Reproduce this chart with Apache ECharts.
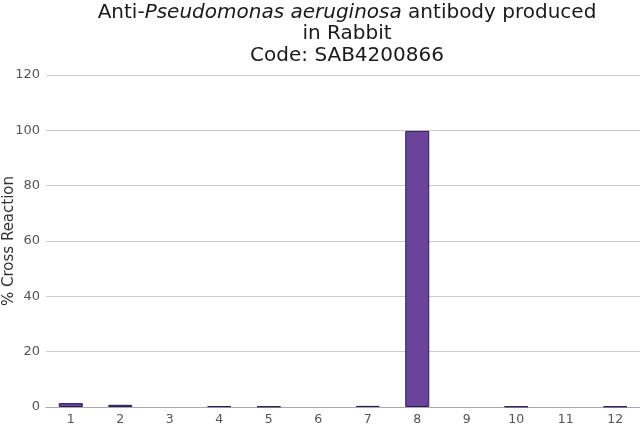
<!DOCTYPE html>
<html><head><meta charset="utf-8">
<script src="https://cdn.jsdelivr.net/npm/echarts@6/dist/echarts.min.js"></script>
<style>html,body{margin:0;padding:0;background:#fff}#c{width:640px;height:427px}</style>
</head><body><div id="c"></div>
<script>
const categories = ['1','2','3','4','5','6','7','8','9','10','11','12'];
const crossReaction = [1.4, 0.8, 0, 0.3, 0.2, 0, 0.4, 99.8, 0, 0.2, 0, 0.2];
const yTicks = [0, 20, 40, 60, 80, 100, 120];

const chart = echarts.init(document.getElementById('c'));
chart.setOption({
  animation: false,
  title: {
    text: 'Anti-{i|Pseudomonas aeruginosa} antibody produced\nin Rabbit\nCode: SAB4200866',
    left: 342, top: -3, textAlign: 'center',
    textStyle: {
      fontFamily: 'DejaVu Sans', fontSize: 20, fontWeight: 'normal', color: '#1a1a1a', lineHeight: 21.5,
      rich: { i: { fontStyle: 'italic', fontFamily: 'DejaVu Sans', fontSize: 20, color: '#1a1a1a', lineHeight: 21.5 } }
    }
  },
  grid: { left: 46, right: 0, top: 75, bottom: 20, containLabel: false, outerBoundsMode: 'none' },
  xAxis: {
    type: 'category', data: categories,
    axisLine: { lineStyle: { color: '#aaa' } },
    axisTick: { show: false },
    axisLabel: { color: '#555', fontFamily: 'DejaVu Sans', fontSize: 12.5, margin: 6 }
  },
  yAxis: {
    type: 'value', min: yTicks[0], max: yTicks[yTicks.length - 1], interval: 20,
    name: '% Cross Reaction', nameLocation: 'middle', nameGap: 29, nameMoveOverlap: false,
    nameTextStyle: { color: '#333', fontFamily: 'DejaVu Sans', fontSize: 15 },
    axisLine: { show: false }, axisTick: { show: false },
    axisLabel: { color: '#555', fontFamily: 'DejaVu Sans', fontSize: 13, margin: 6 },
    splitLine: { lineStyle: { color: '#ccc' } }
  },
  series: [{
    type: 'bar',
    data: crossReaction.map(v => v === 0 ? { value: v, itemStyle: { borderWidth: 0 } } : v),
    barWidth: 24,
    itemStyle: { color: '#6a449a', borderColor: '#2a1a55', borderWidth: 1 }
  }]
});
</script></body></html>
